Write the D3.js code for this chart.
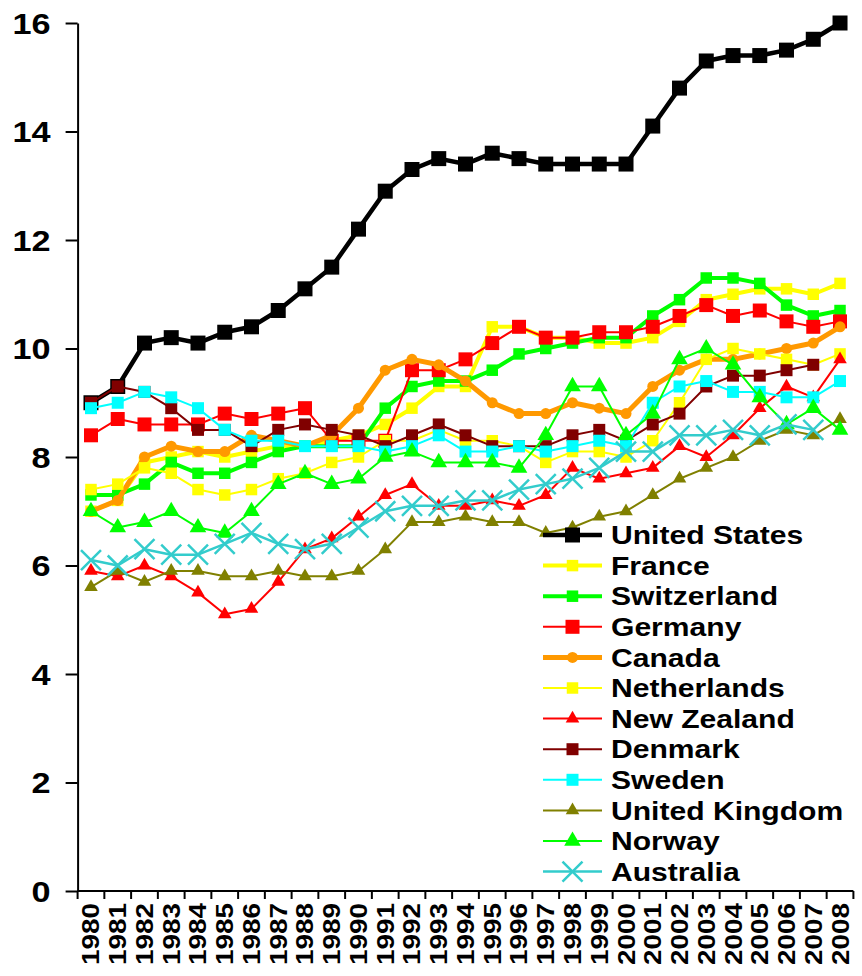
<!DOCTYPE html>
<html>
<head>
<meta charset="utf-8">
<script src="https://cdnjs.cloudflare.com/ajax/libs/d3/7.8.5/d3.min.js"></script>
<style>
  body { margin: 0; background: #fff; }
  text { font-family: "Liberation Sans", Arial, sans-serif; font-weight: bold; fill: #000; }
</style>
</head>
<body>
<div id="chart"></div>
<script>
// years and series values (% of GDP)
var years = d3.range(1980, 2009);

var us          = [9.0, 9.3, 10.1, 10.2, 10.1, 10.3, 10.4, 10.7, 11.1, 11.5, 12.2, 12.9, 13.3, 13.5, 13.4, 13.6, 13.5, 13.4, 13.4, 13.4, 13.4, 14.1, 14.8, 15.3, 15.4, 15.4, 15.5, 15.7, 16.0];
var france      = [7.0, 7.2, 7.9, 8.0, 8.1, 8.0, 8.1, 8.2, 8.2, 8.3, 8.4, 8.6, 8.9, 9.3, 9.3, 10.4, 10.4, 10.2, 10.2, 10.1, 10.1, 10.2, 10.5, 10.9, 11.0, 11.1, 11.1, 11.0, 11.2];
var switzerland = [7.3, 7.3, 7.5, 7.9, 7.7, 7.7, 7.9, 8.1, 8.2, 8.2, 8.2, 8.9, 9.3, 9.4, 9.4, 9.6, 9.9, 10.0, 10.1, 10.2, 10.2, 10.6, 10.9, 11.3, 11.3, 11.2, 10.8, 10.6, 10.7];
var germany     = [8.4, 8.7, 8.6, 8.6, 8.6, 8.8, 8.7, 8.8, 8.9, 8.3, 8.3, 8.3, 9.6, 9.6, 9.8, 10.1, 10.4, 10.2, 10.2, 10.3, 10.3, 10.4, 10.6, 10.8, 10.6, 10.7, 10.5, 10.4, 10.5];
var canada      = [7.0, 7.2, 8.0, 8.2, 8.1, 8.1, 8.4, 8.3, 8.2, 8.4, 8.9, 9.6, 9.8, 9.7, 9.4, 9.0, 8.8, 8.8, 9.0, 8.9, 8.8, 9.3, 9.6, 9.8, 9.8, 9.9, 10.0, 10.1, 10.4];
var netherlands = [7.4, 7.5, 7.8, 7.7, 7.4, 7.3, 7.4, 7.6, 7.7, 7.9, 8.0, 8.3, 8.3, 8.5, 8.3, 8.3, 8.2, 7.9, 8.1, 8.1, 8.0, 8.3, 9.0, 9.8, 10.0, 9.9, 9.8, 9.7, 9.9];
var newZealand  = [5.9, 5.8, 6.0, 5.8, 5.5, 5.1, 5.2, 5.7, 6.3, 6.5, 6.9, 7.3, 7.5, 7.1, 7.1, 7.2, 7.1, 7.3, 7.8, 7.6, 7.7, 7.8, 8.2, 8.0, 8.4, 8.9, 9.3, 9.1, 9.8];
var denmark     = [9.0, 9.3, 9.2, 8.9, 8.5, 8.5, 8.2, 8.5, 8.6, 8.5, 8.4, 8.2, 8.4, 8.6, 8.4, 8.2, 8.2, 8.2, 8.4, 8.5, 8.3, 8.6, 8.8, 9.3, 9.5, 9.5, 9.6, 9.7, null];
var sweden      = [8.9, 9.0, 9.2, 9.1, 8.9, 8.5, 8.3, 8.3, 8.2, 8.2, 8.2, 8.1, 8.2, 8.4, 8.1, 8.1, 8.2, 8.1, 8.2, 8.3, 8.2, 9.0, 9.3, 9.4, 9.2, 9.2, 9.1, 9.1, 9.4];
var uk          = [5.6, 5.9, 5.7, 5.9, 5.9, 5.8, 5.8, 5.9, 5.8, 5.8, 5.9, 6.3, 6.8, 6.8, 6.9, 6.8, 6.8, 6.6, 6.7, 6.9, 7.0, 7.3, 7.6, 7.8, 8.0, 8.3, 8.5, 8.4, 8.7];
var norway      = [7.0, 6.7, 6.8, 7.0, 6.7, 6.6, 7.0, 7.5, 7.7, 7.5, 7.6, 8.0, 8.1, 7.9, 7.9, 7.9, 7.8, 8.4, 9.3, 9.3, 8.4, 8.8, 9.8, 10.0, 9.7, 9.1, 8.6, 8.9, 8.5];
var australia   = [6.1, 6.0, 6.3, 6.2, 6.2, 6.4, 6.6, 6.4, 6.3, 6.4, 6.7, 7.0, 7.1, 7.1, 7.2, 7.2, 7.4, 7.5, 7.6, 7.8, 8.1, 8.1, 8.4, 8.4, 8.5, 8.4, 8.6, 8.5, null];

var yTicks = [0, 2, 4, 6, 8, 10, 12, 14, 16];

// series in legend / drawing order (later ones drawn on top)
var series = [
    { name: 'United States',  values: us,          color: '#000000', width: 4.5, shape: d3.symbolSquare,   size: 225 },
    { name: 'France',         values: france,      color: '#FFFF00', width: 4,   shape: d3.symbolSquare,   size: 132 },
    { name: 'Switzerland',    values: switzerland, color: '#00FF00', width: 4,   shape: d3.symbolSquare,   size: 132 },
    { name: 'Germany',        values: germany,     color: '#FF0000', width: 2,   shape: d3.symbolSquare,   size: 196 },
    { name: 'Canada',         values: canada,      color: '#FF9900', width: 5,   shape: d3.symbolCircle,   size: 95 },
    { name: 'Netherlands',    values: netherlands, color: '#FFFF00', width: 2,   shape: d3.symbolSquare,   size: 132 },
    { name: 'New Zealand',    values: newZealand,  color: '#FF0000', width: 2,   shape: d3.symbolTriangle, size: 80 },
    { name: 'Denmark',        values: denmark,     color: '#800000', width: 2,   shape: d3.symbolSquare,   size: 144 },
    { name: 'Sweden',         values: sweden,      color: '#00FFFF', width: 2,   shape: d3.symbolSquare,   size: 144 },
    { name: 'United Kingdom', values: uk,          color: '#808000', width: 2,   shape: d3.symbolTriangle, size: 80 },
    { name: 'Norway',         values: norway,      color: '#00FF00', width: 2,   shape: d3.symbolTriangle, size: 120 },
    { name: 'Australia',      values: australia,   color: '#33CCCC', width: 2.5, shape: d3.symbolTimes,    size: 263, stroke: true }
];

var chart_width  = 862;
var chart_height = 976;
var stretch      = 1.18;   // the original picture is a bit wide for its text

var svg = d3.select('#chart')
    .append('svg')
    .attr('width', chart_width)
    .attr('height', chart_height);

var x_scale = d3.scaleBand()
    .domain(years)
    .range([77.6, 853.4]);

var y_scale = d3.scaleLinear()
    .domain([0, 16])
    .range([891, 23]);

function cx(year) { return x_scale(year) + x_scale.bandwidth() / 2; }

// y axis
var y_axis = svg.append('g')
    .attr('transform', 'translate(77.6,0)')
    .call(d3.axisLeft(y_scale).tickValues(yTicks).tickSize(12).tickPadding(0).tickSizeOuter(0));
y_axis.select('.domain').attr('stroke', '#000').attr('stroke-width', 2);
y_axis.selectAll('.tick line').attr('stroke', '#000').attr('stroke-width', 2);
y_axis.selectAll('.tick text')
    .attr('x', -27 / stretch)
    .attr('dy', '0.36em')
    .attr('transform', 'scale(' + stretch + ',1)')
    .attr('font-size', 29)
    .attr('font-family', '"Liberation Sans", Arial, sans-serif')
    .attr('font-weight', 'bold')
    .attr('fill', '#000');

// x axis: line, ticks at the category edges, rotated year labels
svg.append('line')
    .attr('x1', 77.6).attr('x2', 853.4)
    .attr('y1', 891).attr('y2', 891)
    .attr('stroke', '#000').attr('stroke-width', 2);

var edges = years.map(function(d) { return x_scale(d); }).concat([x_scale.range()[1]]);
svg.selectAll('.xtick')
    .data(edges)
    .enter()
    .append('line')
    .attr('class', 'xtick')
    .attr('x1', function(d) { return d; })
    .attr('x2', function(d) { return d; })
    .attr('y1', 891).attr('y2', 899)
    .attr('stroke', '#000').attr('stroke-width', 2);

svg.selectAll('.xlabel')
    .data(years)
    .enter()
    .append('text')
    .attr('class', 'xlabel')
    .attr('transform', function(d) {
        return 'translate(' + cx(d) + ',903) scale(' + stretch + ',1) rotate(-90)';
    })
    .attr('text-anchor', 'end')
    .attr('dy', '0.36em')
    .attr('font-size', 20)
    .attr('textLength', 62)
    .attr('lengthAdjust', 'spacingAndGlyphs')
    .text(function(d) { return d; });

// lines and markers
var line = d3.line()
    .defined(function(d) { return d != null; })
    .x(function(d, i) { return cx(years[i]); })
    .y(function(d) { return y_scale(d); });

function drawMarker(sel, s) {
    sel.attr('d', d3.symbol().type(s.shape).size(s.size));
    if (s.stroke) {
        sel.attr('fill', 'none').attr('stroke', s.color).attr('stroke-width', 2.5);
    } else {
        sel.attr('fill', s.color).attr('stroke', 'none');
    }
}

series.forEach(function(s) {
    var g = svg.append('g');
    g.append('path')
        .datum(s.values)
        .attr('d', line)
        .attr('fill', 'none')
        .attr('stroke', s.color)
        .attr('stroke-width', s.width)
        .attr('stroke-linejoin', 'round');

    g.selectAll('path.mark')
        .data(s.values.map(function(v, i) { return { year: years[i], v: v }; })
            .filter(function(d) { return d.v != null; }))
        .enter()
        .append('path')
        .attr('class', 'mark')
        .attr('transform', function(d) {
            return 'translate(' + cx(d.year) + ',' + y_scale(d.v) + ')';
        })
        .call(drawMarker, s);
});

// legend
var legend_top  = 535;
var legend_step = 30.6;
var legend = svg.selectAll('.legend')
    .data(series)
    .enter()
    .append('g')
    .attr('class', 'legend')
    .attr('transform', function(d, i) { return 'translate(543,' + (legend_top + i * legend_step) + ')'; });

legend.append('line')
    .attr('x1', 0).attr('x2', 59)
    .attr('y1', 0).attr('y2', 0)
    .attr('stroke', function(d) { return d.color; })
    .attr('stroke-width', function(d) { return d.width; });

legend.append('path')
    .attr('transform', 'translate(29.5,0)')
    .each(function(d) { d3.select(this).call(drawMarker, d); });

legend.append('text')
    .attr('transform', 'translate(68,0) scale(' + stretch + ',1)')
    .attr('dy', '0.36em')
    .attr('font-size', 25.5)
    .text(function(d) { return d.name; });
</script>
</body>
</html>
